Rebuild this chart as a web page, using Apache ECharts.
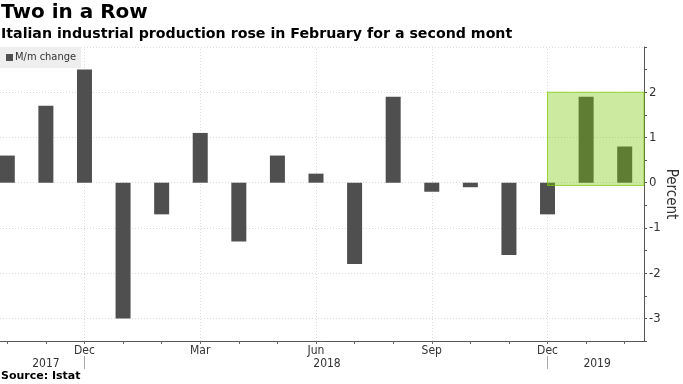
<!DOCTYPE html>
<html>
<head>
<meta charset="utf-8">
<script src="https://cdn.jsdelivr.net/npm/echarts@6/dist/echarts.min.js"></script>
<style>
html,body{margin:0;padding:0;background:#fff;}
#chart{width:683px;height:384px;}
</style>
</head>
<body>
<div id="chart"></div>
<script>
// ---- data ----
const months = ['2017-10','2017-11','2017-12','2018-01','2018-02','2018-03','2018-04','2018-05','2018-06',
                '2018-07','2018-08','2018-09','2018-10','2018-11','2018-12','2019-01','2019-02'];
const monthNames = ['Jan','Feb','Mar','Apr','May','Jun','Jul','Aug','Sep','Oct','Nov','Dec'];
const values = [0.6, 1.7, 2.5, -3.0, -0.7, 1.1, -1.3, 0.6, 0.2, -1.8, 1.9, -0.2, -0.1, -1.6, -0.7, 1.9, 0.8];
const labeledMonths = ['Dec','Mar','Jun','Sep'];
const highlightFrom = '2018-12';
const highlightTop = 2;
const highlightBottom = -0.06;
const yTicks = [-3.5, 3, 0.5]; // min, max, step
const seriesName = 'M/m change';
const titleText = 'Two in a Row';
const subtitleText = 'Italian industrial production rose in February for a second mont';
const sourceText = 'Source: Istat';

// ---- derived ----
const monthOf = m => monthNames[parseInt(m.split('-')[1], 10) - 1];
const yearOf = m => m.split('-')[0];
const yearGroups = {};
months.forEach((m, i) => { (yearGroups[yearOf(m)] = yearGroups[yearOf(m)] || []).push(i); });
const yearLabelIdx = {};
Object.keys(yearGroups).forEach(y => {
  const g = yearGroups[y];
  yearLabelIdx[Math.floor((g[0] + g[g.length - 1]) / 2)] = { year: y, half: (g.length % 2 === 0) };
});
const gridLineIdx = months.map((m, i) => labeledMonths.indexOf(monthOf(m)) >= 0 ? i : -1).filter(i => i >= 0);

const condensed = '"DejaVu Sans Condensed", "DejaVu Sans", sans-serif';
const bold = '"DejaVu Sans", sans-serif';

const chart = echarts.init(document.getElementById('chart'), null, { renderer: 'canvas' });
chart.setOption({
  animation: false,
  backgroundColor: '#ffffff',
  title: [
    { text: titleText, left: 1, top: 3, padding: 0,
      textStyle: { fontFamily: bold, fontWeight: 'bold', fontSize: 20, color: '#000' } },
    { text: subtitleText, left: 1, top: 27, padding: 0,
      textStyle: { fontFamily: bold, fontWeight: 'bold', fontSize: 14.2, color: '#000' } },
    { text: sourceText, left: 1, top: 371, padding: 0,
      textStyle: { fontFamily: bold, fontWeight: 'bold', fontSize: 11, color: '#000' } }
  ],
  legend: {
    data: [seriesName], left: 0, top: 47, backgroundColor: '#eeeeee',
    padding: [5, 5, 5, 6], itemWidth: 7, itemHeight: 7, itemGap: 4, icon: 'rect',
    textStyle: { fontFamily: condensed, fontSize: 11, color: '#333', padding: [0, 0, 0, -3] }
  },
  grid: { left: -12, right: 39, top: 47, bottom: 43, containLabel: false, outerBoundsMode: 'none' },
  xAxis: [
    {
      type: 'category', data: months, boundaryGap: true, position: 'bottom',
      axisLine: { show: true, onZero: false, lineStyle: { color: '#555', width: 1 } },
      axisTick: { show: true, alignWithLabel: true, interval: 0, length: 3, lineStyle: { color: '#666' } },
      axisLabel: {
        interval: (i) => gridLineIdx.indexOf(i) >= 0,
        formatter: (v) => monthOf(v), margin: 4,
        fontFamily: condensed, fontSize: 12, color: '#333'
      },
      splitLine: { show: false }
    },
    {
      type: 'category', data: months, boundaryGap: true, position: 'bottom', offset: 15,
      axisLine: { show: false, onZero: false },
      axisTick: { show: true, alignWithLabel: true, length: 13,
        interval: (i) => monthOf(months[i]) === 'Dec', lineStyle: { color: '#aaa' } },
      axisLabel: {
        interval: (i) => yearLabelIdx[i] !== undefined,
        formatter: (v, i) => {
          const e = yearLabelIdx[i];
          if (!e) return '';
          return e.half ? '{h|' + e.year + '}' : e.year;
        },
        rich: { h: { padding: [0, 0, 0, 22], fontFamily: condensed, fontSize: 12, color: '#333' } },
        margin: 2, fontFamily: condensed, fontSize: 12, color: '#333'
      },
      splitLine: { show: false }
    }
  ],
  yAxis: {
    type: 'value', position: 'right', min: yTicks[0], max: yTicks[1], interval: yTicks[2],
    name: 'Percent', nameLocation: 'middle', nameRotate: -90, nameGap: 19, nameMoveOverlap: false,
    nameTextStyle: { fontFamily: condensed, fontSize: 15, color: '#333' },
    axisLine: { show: true, lineStyle: { color: '#555' } },
    axisTick: { show: true, length: 3, lineStyle: { color: '#555' } },
    axisLabel: {
      formatter: (v) => (Math.abs(v - Math.round(v)) < 1e-9 && v !== yTicks[1]) ? String(v) : '',
      margin: 5, fontFamily: condensed, fontSize: 13, color: '#333'
    },
    splitLine: { show: true, lineStyle: { color: ['rgba(0,0,0,0)', '#dcdcdc'], type: [1, 2], width: 1 } }
  },
  series: [
    {
      name: 'gridlines', type: 'line', data: [], z: 0, silent: true,
      markLine: {
        silent: true, symbol: 'none', animation: false, z: 0,
        label: { show: false },
        lineStyle: { color: '#dcdcdc', type: [1, 2], width: 1 },
        data: gridLineIdx.map(i => ({ xAxis: i }))
      }
    },
    {
      name: seriesName, type: 'bar', data: values, barWidth: 15,
      itemStyle: { color: '#4f4f4f' },
      z: 2
    },
    {
      name: 'highlight', type: 'line', data: [], z: 10, silent: true,
      markArea: {
        silent: true, z: 10,
        itemStyle: { color: 'rgba(124,203,6,0.38)', borderColor: 'rgba(124,203,6,0.75)', borderWidth: 1 },
        data: [[{ xAxis: months.indexOf(highlightFrom), yAxis: highlightTop },
                { xAxis: Infinity, yAxis: highlightBottom }]]
      }
    }
  ]
});
</script>
</body>
</html>
